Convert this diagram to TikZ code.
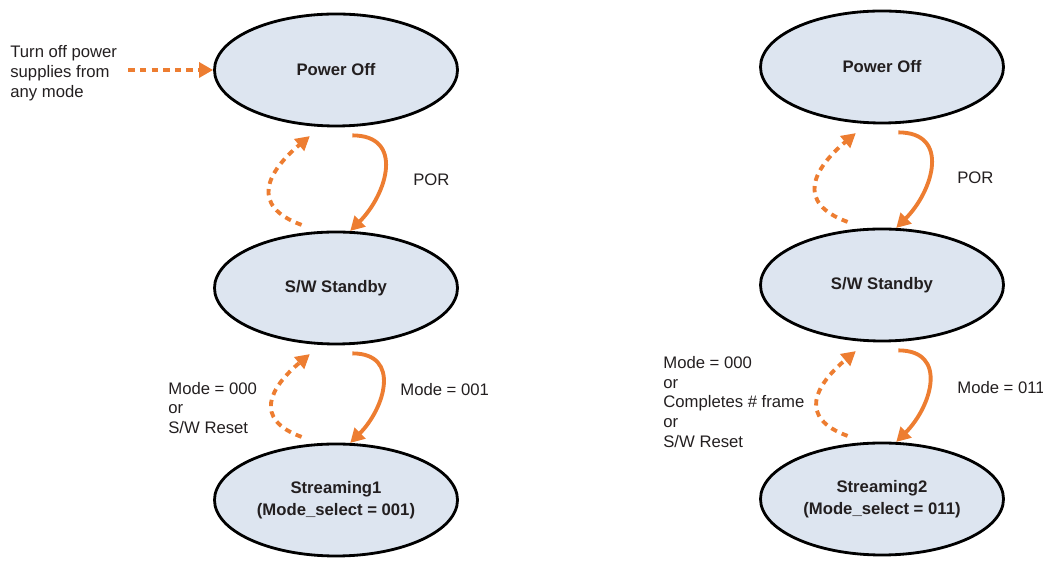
\documentclass[tikz,border=0pt]{standalone}
\usepackage{fontspec}
\setmainfont{Liberation Sans}
\usetikzlibrary{shapes.geometric,arrows.meta}
\definecolor{stfill}{HTML}{DDE5F0}
\definecolor{arrorange}{HTML}{ED7D31}
\definecolor{txtgray}{HTML}{231F20}
\tikzset{
  state/.style={ellipse,draw=black,line width=1.6pt,fill=stfill,
    minimum width=4.86cm,minimum height=2.24cm,inner sep=0pt,align=center,
    text=txtgray,font=\bfseries\fontsize{9.5}{12.5}\selectfont},
  trans/.style={draw=arrorange,line width=2.2pt,
    -{Triangle[length=8pt,width=8.5pt]},looseness=1.4},
  back/.style={trans,dash pattern=on 3.6pt off 3pt},
  lbl/.style={anchor=west,inner sep=0pt,align=left,text=txtgray,
    font=\fontsize{9.5}{11.3}\selectfont}
}

\begin{document}
\begin{tikzpicture}
  \useasboundingbox (0,0) rectangle (20.86,-11.3);
  % left chain
  \node[state] (off1) at (6.72,-1.40) {Power Off};
  \node[state] (sb1) at (6.72,-5.76) {S/W Standby};
  \node[state] (st1) at (6.72,-10.0) {Streaming1\\(Mode\_select = 001)};
  % right chain
  \node[state] (off2) at (17.64,-1.34) {Power Off};
  \node[state] (sb2) at (17.64,-5.70) {S/W Standby};
  \node[state] (st2) at (17.64,-9.98) {Streaming2\\(Mode\_select = 011)};
  % labels
  \node[lbl] (note) at (0.2,-1.46) {Turn off power\\supplies from\\any mode};
  \node[lbl] (por1) at (8.26,-3.60) {POR};
  \node[lbl] (go1) at (8.00,-7.80) {Mode = 001};
  \node[lbl] (ret1) at (3.36,-8.16) {Mode = 000\\or\\S/W Reset};
  \node[lbl] (por2) at (19.14,-3.56) {POR};
  \node[lbl] (go2) at (19.14,-7.76) {Mode = 011};
  \node[lbl] (ret2) at (13.26,-8.04) {Mode = 000\\or\\Completes \# frame\\or\\S/W Reset};
  % transitions
  \draw[back] ([xshift=0.22cm]note.east |- off1.west) -- (off1.west);
  \draw[trans] ([yshift=-0.17cm]off1.-74) to[out=0,in=45] (sb1.76);
  \draw[back,looseness=1.6] ([yshift=0.16cm]sb1.122) to[out=160,in=220] ([yshift=-0.2cm]off1.-115);
  \draw[trans] ([yshift=-0.17cm]sb1.-74) to[out=0,in=45] (st1.76);
  \draw[back,looseness=1.6] ([yshift=0.16cm]st1.122) to[out=160,in=220] ([yshift=-0.2cm]sb1.-115);
  \draw[trans] ([yshift=-0.17cm]off2.-74) to[out=0,in=45] (sb2.76);
  \draw[back,looseness=1.6] ([yshift=0.16cm]sb2.122) to[out=160,in=220] ([yshift=-0.2cm]off2.-115);
  \draw[trans] ([yshift=-0.17cm]sb2.-74) to[out=0,in=45] (st2.76);
  \draw[back,looseness=1.6] ([yshift=0.16cm]st2.122) to[out=160,in=220] ([yshift=-0.2cm]sb2.-115);
\end{tikzpicture}
\end{document}
